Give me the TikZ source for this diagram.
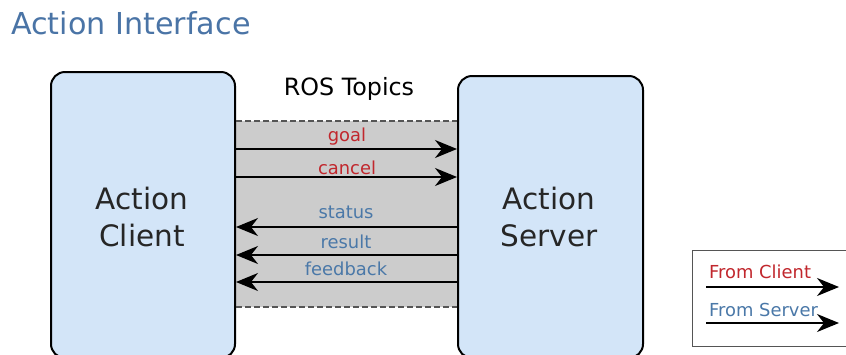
\documentclass[tikz,border=0pt]{standalone}
\usepackage{fontspec}
\setmainfont{DejaVu Sans}
\usetikzlibrary{arrows.meta,backgrounds}
\definecolor{boxfill}{HTML}{D3E5F8}
\definecolor{bandgray}{HTML}{CCCCCC}
\definecolor{clientred}{HTML}{C1272D}
\definecolor{serverblue}{HTML}{4A78A8}
\definecolor{titleblue}{HTML}{4A74A6}
\definecolor{dashgray}{HTML}{555555}
\begin{document}
\begin{tikzpicture}[x=1pt,y=-1pt,
  actor/.style={draw=black, line width=2pt, fill=boxfill, rounded corners=14pt,
    inner sep=0pt, anchor=north west},
  actortext/.style={align=center, font=\fontsize{29.5}{37}\selectfont, text=black!85},
  topicarrow/.style={line width=1.6pt, -{Stealth[length=22pt,width=18pt,inset=7pt]}},
  lbl/.style={font=\fontsize{17.9}{20}\selectfont, inner sep=0pt},
  fromclient/.style={lbl, text=clientred},
  fromserver/.style={lbl, text=serverblue},
  bandedge/.style={dashgray, line width=1.4pt, dash pattern=on 6pt off 3pt}]
\useasboundingbox (0,0) rectangle (846,354);

% title
\node[anchor=west, inner sep=0pt, text=titleblue, font=\fontsize{30.2}{34}\selectfont] (title) at (11,23) {Action Interface};

% client and server boxes
\node[actor, minimum width=184pt, minimum height=286pt] (client) at (50,71) {};
\node[actor, minimum width=185pt, minimum height=282pt] (server) at (457,75) {};
\node[actortext] (clienttext) at (142,216.5) {Action\\Client};
\node[actortext] (servertext) at (549,217) {Action\\Server};

% topic band between the boxes
\coordinate (bandtl) at (client.east |- 0,121);
\coordinate (bandbr) at (server.west |- 0,307);
\begin{pgfonlayer}{background}
  \fill[bandgray] (bandtl) rectangle (bandbr);
\end{pgfonlayer}
\draw[bandedge] (client.east |- 0,121) -- (server.west |- 0,121);
\draw[bandedge] (client.east |- 0,307) -- (server.west |- 0,307);
\node[font=\fontsize{23.8}{27}\selectfont, inner sep=0pt] (rostopics) at (349,89) {ROS Topics};

% client to server topics
\draw[topicarrow] (client.east |- 0,149) -- (server.west |- 0,149);
\draw[topicarrow] (client.east |- 0,177) -- (server.west |- 0,177);
\node[fromclient] (goal) at (347,137) {goal};
\node[fromclient] (cancel) at (347,168) {cancel};

% server to client topics
\draw[topicarrow] (server.west |- 0,227) -- (client.east |- 0,227);
\draw[topicarrow] (server.west |- 0,255) -- (client.east |- 0,255);
\draw[topicarrow] (server.west |- 0,282) -- (client.east |- 0,282);
\node[fromserver] (status) at (346,212) {status};
\node[fromserver] (result) at (346,242) {result};
\node[fromserver] (feedback) at (346,269) {feedback};

% legend
\node[draw=dashgray, line width=1.4pt, fill=white, minimum width=158pt, minimum height=96pt,
  inner sep=0pt, anchor=north west] (legend) at (692,250) {};
\node[fromclient, anchor=west] (legclient) at (709,272) {From Client};
\node[fromserver, anchor=west] (legserver) at (709,310) {From Server};
\coordinate (lc1) at (706,287);
\coordinate (lc2) at (839,287);
\coordinate (ls1) at (706,323);
\coordinate (ls2) at (839,323);
\draw[topicarrow] (lc1) -- (lc2);
\draw[topicarrow] (ls1) -- (ls2);
\end{tikzpicture}
\end{document}
